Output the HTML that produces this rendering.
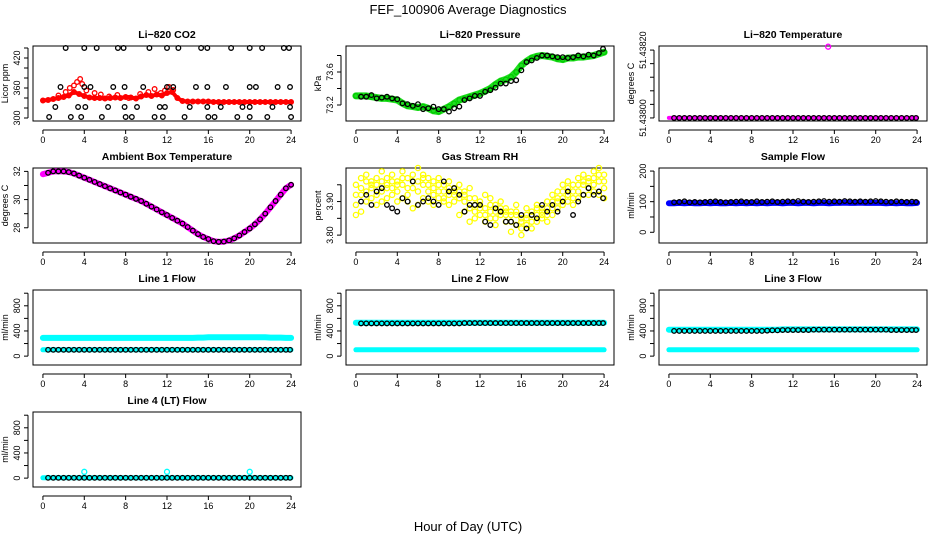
<!DOCTYPE html>
<html><head><meta charset="utf-8"><style>
body{margin:0;background:#fff;}
svg{display:block;font-family:"Liberation Sans",sans-serif;}
</style></head><body>
<svg id="chart" width="936" height="540" viewBox="0 0 936 540" xmlns="http://www.w3.org/2000/svg">
<rect width="936" height="540" fill="#fff"/>
<text x="468" y="14" font-size="13" text-anchor="middle">FEF_100906  Average Diagnostics</text>
<text x="468" y="531" font-size="13" text-anchor="middle">Hour of Day (UTC)</text>
</svg>
<script>
const halfHours = [0,0.5,1,1.5,2,2.5,3,3.5,4,4.5,5,5.5,6,6.5,7,7.5,8,8.5,9,9.5,10,10.5,11,11.5,12,12.5,13,13.5,14,14.5,15,15.5,16,16.5,17,17.5,18,18.5,19,19.5,20,20.5,21,21.5,22,22.5,23,23.5,24];
const blackHours = [0.5,1,1.5,2,2.5,3,3.5,4,4.5,5,5.5,6,6.5,7,7.5,8,8.5,9,9.5,10,10.5,11,11.5,12,12.5,13,13.5,14,14.5,15,15.5,16,16.5,17,17.5,18,18.5,19,19.5,20,20.5,21,21.5,22,22.5,23,23.5,23.9];
const xTicks = [0,4,8,12,16,20,24];

// CO2
const co2Red = [335,336,338,340,342,345,352,348,344,341,340,340,339,340,341,340,342,341,339,343,346,344,347,345,350,352,340,334,333,333,333,333,333,332,332,332,332,332,332,332,332,332,332,332,332,332,332,332,332];
const co2RedScatterHours = [1.5,2.2,2.6,3.0,3.3,3.6,3.8,4.2,5.0,5.6,6.4,7.2,8.3,9.4,10.2,10.8,11.4,11.8,12.2,12.6];
const co2RedScatterVals = [345,352,360,365,372,378,368,355,350,347,343,346,340,348,352,358,350,355,362,356];
const co2BlackHours = [2.2,4.0,5.2,7.25,7.8,10.3,12.0,13.1,15.3,15.9,18.2,20.0,21.2,23.3,23.8, 1.7,4.0,4.6,6.8,7.9,9.7,12.0,12.6,14.8,15.9,17.7,20.0,20.6,22.7,23.9, 1.2,3.4,4.1,6.3,7.9,9.1,11.3,11.8,14.2,15.9,17.2,19.3,20.0,22.2,23.9, 0.6,2.7,3.7,5.7,8.0,8.6,10.8,11.6,13.7,16.0,16.6,18.8,20.0,21.7,24.0];
const co2BlackVals = [440,440,440,440,440,440,440,440,440,440,440,440,440,440,440, 362,362,362,362,362,362,362,362,362,362,362,362,362,362,362, 322,322,322,322,322,322,322,322,322,322,322,322,322,322,322, 302,302,302,302,302,302,302,302,302,302,302,302,302,302,302];
// Pressure
const presGreen = [73.31,73.31,73.31,73.30,73.29,73.28,73.28,73.27,73.26,73.22,73.19,73.18,73.17,73.18,73.16,73.13,73.12,73.15,73.18,73.22,73.26,73.28,73.30,73.32,73.34,73.37,73.40,73.45,73.49,73.51,73.54,73.60,73.68,73.73,73.77,73.79,73.80,73.79,73.78,73.76,73.75,73.77,73.77,73.78,73.78,73.79,73.80,73.82,73.84];
const presBlack = [73.30,73.30,73.32,73.28,73.29,73.30,73.28,73.27,73.22,73.21,73.19,73.21,73.15,73.16,73.18,73.15,73.15,73.12,73.16,73.18,73.26,73.28,73.31,73.31,73.36,73.38,73.41,73.46,73.46,73.49,73.50,73.62,73.72,73.74,73.77,73.80,73.80,73.79,73.78,73.78,73.77,73.78,73.80,73.79,73.81,73.80,73.83,73.88];
// Li-820 temperature
const tempVals = [51.438,51.438,51.438,51.438,51.438,51.438,51.438,51.438,51.438,51.438,51.438,51.438,51.438,51.438,51.438,51.438,51.438,51.438,51.438,51.438,51.438,51.438,51.438,51.438,51.438,51.438,51.438,51.438,51.438,51.438,51.438,51.438,51.438,51.438,51.438,51.438,51.438,51.438,51.438,51.438,51.438,51.438,51.438,51.438,51.438,51.438,51.438,51.438,51.438];
const tempOutlierHour = [15.4];
const tempOutlierVal = [51.43821];
// Ambient
const ambVals = [31.8,31.9,32.0,32.0,32.0,31.95,31.85,31.7,31.55,31.4,31.25,31.1,30.95,30.8,30.65,30.5,30.35,30.2,30.05,29.9,29.7,29.5,29.3,29.1,28.9,28.7,28.5,28.3,28.05,27.8,27.55,27.35,27.2,27.05,27.0,27.02,27.1,27.25,27.45,27.7,27.95,28.25,28.6,29.0,29.45,29.9,30.35,30.8,31.05];
// RH
const rhA = [3.95,3.97,3.98,3.96,3.97,3.99,3.97,3.98,3.96,3.99,3.97,3.98,4.00,3.98,3.97,3.96,3.97,3.95,3.96,3.94,3.95,3.93,3.94,3.91,3.90,3.92,3.91,3.89,3.90,3.88,3.87,3.89,3.85,3.88,3.87,3.89,3.88,3.90,3.92,3.93,3.95,3.96,3.95,3.97,3.98,3.97,3.99,4.00,3.98];
const rhB = [3.89,3.92,3.93,3.94,3.92,3.93,3.95,3.94,3.93,3.95,3.92,3.94,3.93,3.95,3.93,3.92,3.93,3.91,3.92,3.93,3.91,3.90,3.88,3.87,3.88,3.86,3.87,3.85,3.88,3.86,3.84,3.86,3.82,3.85,3.84,3.86,3.87,3.86,3.88,3.90,3.91,3.92,3.91,3.93,3.95,3.94,3.95,3.96,3.94];
const rhC = [3.86,3.87,3.90,3.91,3.89,3.90,3.91,3.92,3.90,3.91,3.90,3.88,3.89,3.91,3.90,3.89,3.91,3.90,3.89,3.90,3.86,3.87,3.84,3.85,3.86,3.84,3.85,3.83,3.86,3.84,3.81,3.83,3.80,3.83,3.82,3.84,3.85,3.84,3.86,3.88,3.89,3.90,3.89,3.91,3.92,3.92,3.93,3.92,3.91];
const rhD = [3.92,3.94,3.96,3.95,3.95,3.96,3.94,3.96,3.95,3.97,3.94,3.96,3.96,3.97,3.95,3.94,3.95,3.93,3.94,3.92,3.93,3.92,3.91,3.89,3.89,3.88,3.89,3.87,3.87,3.87,3.86,3.87,3.84,3.86,3.86,3.88,3.86,3.88,3.90,3.91,3.93,3.94,3.93,3.95,3.96,3.96,3.97,3.98,3.96];
const rhBlack = [3.90,3.92,3.89,3.93,3.94,3.89,3.88,3.87,3.91,3.90,3.96,3.89,3.90,3.91,3.90,3.89,3.96,3.93,3.94,3.92,3.87,3.89,3.89,3.89,3.84,3.83,3.88,3.87,3.84,3.84,3.83,3.86,3.82,3.86,3.85,3.89,3.87,3.89,3.87,3.90,3.93,3.86,3.90,3.92,3.94,3.92,3.93,3.91];
// Sample flow
const sfBlue = [95,95,96,95,96,95,95,96,95,96,95,95,96,95,96,95,96,95,96,95,96,96,95,96,96,95,96,96,95,96,96,95,96,96,97,96,96,97,96,96,96,96,95,96,95,96,95,95,96];
const sfBlack = [98,99,101,98,99,98,99,100,101,99,98,99,100,101,99,99,101,99,100,101,99,100,101,100,102,100,99,100,101,102,100,101,100,102,101,100,101,100,101,102,101,100,99,101,100,99,100,99];
// Line flows
const l1Cyan = [290,290,290,290,290,290,290,290,290,290,290,290,290,290,290,290,290,290,290,290,290,290,290,290,290,290,290,290,290,290,295,295,300,300,300,300,300,300,300,300,300,300,300,300,295,295,295,290,290];
const l1Low = [100,100,100,100,100,100,100,100,100,100,100,100,100,100,100,100,100,100,100,100,100,100,100,100,100,100,100,100,100,100,100,100,100,100,100,100,100,100,100,100,100,100,100,100,100,100,100,100,100];
const l1Black = [100,100,100,100,100,100,100,100,100,100,100,100,100,100,100,100,100,100,100,100,100,100,100,100,100,100,100,100,100,100,100,100,100,100,100,100,100,100,100,100,100,100,100,100,100,100,100,100];
const l2Cyan = [530,530,530,530,530,530,530,530,530,530,530,530,530,530,530,530,530,530,530,530,530,530,530,530,530,530,530,530,530,530,530,530,530,530,530,530,530,530,530,530,530,530,530,530,530,530,530,530,530];
const l2Low = [100,100,100,100,100,100,100,100,100,100,100,100,100,100,100,100,100,100,100,100,100,100,100,100,100,100,100,100,100,100,100,100,100,100,100,100,100,100,100,100,100,100,100,100,100,100,100,100,100];
const l2Black = [520,520,520,520,520,520,520,520,520,520,520,520,520,520,520,520,520,520,520,520,525,525,525,525,525,525,525,525,525,525,525,525,525,525,525,525,525,525,525,525,525,525,525,525,525,525,525,525];
const l3Cyan = [420,420,420,420,420,420,420,420,420,420,420,420,420,420,420,420,420,420,420,420,420,420,425,425,425,425,425,425,425,425,425,425,425,425,425,425,425,425,425,425,425,425,425,425,425,425,425,425,425];
const l3Low = [100,100,100,100,100,100,100,100,100,100,100,100,100,100,100,100,100,100,100,100,100,100,100,100,100,100,100,100,100,100,100,100,100,100,100,100,100,100,100,100,100,100,100,100,100,100,100,100,100];
const l3Black = [400,400,400,400,400,400,400,400,400,400,400,400,400,400,400,400,400,400,405,410,410,415,415,415,415,415,415,420,420,420,420,420,420,420,420,420,420,420,420,420,420,420,415,415,415,415,415,415];
const l4Cyan = [5,5,5,5,5,5,5,5,5,5,5,5,5,5,5,5,5,5,5,5,5,5,5,5,5,5,5,5,5,5,5,5,5,5,5,5,5,5,5,5,5,5,5,5,5,5,5,5,5];
const l4Black = [5,5,5,5,5,5,5,5,5,5,5,5,5,5,5,5,5,5,5,5,5,5,5,5,5,5,5,5,5,5,5,5,5,5,5,5,5,5,5,5,5,5,5,5,5,5,5,5];
const l4OutHours = [4,12,20];
const l4OutVals = [100,100,100];

const NS = 'http://www.w3.org/2000/svg';
const svg = document.getElementById('chart');
function mk(tag, attrs, parent){ const e=document.createElementNS(NS,tag); for(const k in attrs) e.setAttribute(k,attrs[k]); (parent||svg).appendChild(e); return e; }

function panel(name, col, row, title, ylab, ydom, yticks, ylabels){
  const x0=33+col*313, x1=301+col*313, y0=46+row*122, y1=121+row*122;
  const g=mk('g',{});
  
  
  const sx=v=>x0+(v+0.96)/25.92*(x1-x0);
  const sy=v=>y1-(v-ydom[0])/(ydom[1]-ydom[0])*(y1-y0);
  const t=mk('text',{x:(x0+x1)/2,y:y0-8,'font-size':10.5,'font-weight':'bold','text-anchor':'middle'},g);
  t.textContent=title;
  
  
  const ax=mk('g',{stroke:'#000','stroke-width':1,fill:'none'},g);
  
  
  mk('line',{x1:sx(0),x2:sx(24),y1:y1+9,y2:y1+9},ax);
  xTicks.forEach(v=>{
    mk('line',{x1:sx(v),x2:sx(v),y1:y1+9,y2:y1+13},ax);
    const lt=mk('text',{x:sx(v),y:y1+22,'font-size':9,'text-anchor':'middle',fill:'#000',stroke:'none'},g);
    lt.textContent=v;
    
    
  });
  const ay=mk('g',{stroke:'#000','stroke-width':1,fill:'none'},g);
  
  
  mk('line',{x1:x0-5,x2:x0-5,y1:sy(yticks[0]),y2:sy(yticks[yticks.length-1])},ay);
  yticks.forEach(v=>{ mk('line',{x1:x0-9,x2:x0-5,y1:sy(v),y2:sy(v)},ay); });
  ylabels.forEach(v=>{
    const yy=sy(v), xx=x0-13;
    const lt=mk('text',{x:xx,y:yy,'font-size':9,'text-anchor':'middle',transform:`rotate(-90 ${xx} ${yy})`},g);
    lt.textContent=v;
    
    
  });
  const yl=mk('text',{x:x0-25,y:(y0+y1)/2,'font-size':9,'text-anchor':'middle',transform:`rotate(-90 ${x0-25} ${(y0+y1)/2})`},g);
  yl.textContent=ylab;
  
  
  const box=mk('rect',{x:x0,y:y0,width:x1-x0,height:y1-y0,fill:'none',stroke:'#000','stroke-width':1},g);
  
  
  const plot=mk('g',{},g);
  return {sx,sy,plot,name};
}
function band(p, xs, ys, color, w){
  const pts=xs.map((x,i)=>p.sx(x).toFixed(1)+','+p.sy(ys[i]).toFixed(1)).join(' ');
  const l=mk('polyline',{points:pts,fill:'none',stroke:color,'stroke-width':w,'stroke-linejoin':'round','stroke-linecap':'round'},p.plot);
  
  
}
function pts(p, xs, ys, color, r){
  const g=mk('g',{fill:'none',stroke:color,'stroke-width':1.3},p.plot);
  
  
  xs.forEach((x,i)=>{
    const c=mk('circle',{cx:p.sx(x),cy:p.sy(ys[i]),r:r||2.3},g);
    
    
  });
}

// CO2
let p=panel('co2',0,0,'Li\u2212820 CO2','Licor ppm',[294,444],[300,320,340,360,380,400,420,440],[300,360,420]);
band(p,halfHours,co2Red,'#ff0000',4);
pts(p,halfHours,co2Red,'#ff0000',2.3);
pts(p,co2RedScatterHours,co2RedScatterVals,'#ff0000',2.3);
pts(p,co2BlackHours,co2BlackVals,'#000');

p=panel('pressure',1,0,'Li\u2212820 Pressure','kPa',[73.006,73.915],[73.2,73.4,73.6,73.8],[73.2,73.6]);
band(p,halfHours,presGreen,'#22dd22',7);
pts(p,halfHours,presGreen,'#00cc00',2.3);
pts(p,blackHours,presBlack,'#000');

p=panel('li820-temperature',2,0,'Li\u2212820 Temperature','degrees C',[51.437991,51.438212],[51.438,51.43804,51.43808,51.43812,51.43816,51.4382],['51.43800','51.43820']);
band(p,halfHours,tempVals,'#ff00ff',4);
pts(p,blackHours,tempVals.slice(1),'#000');
pts(p,tempOutlierHour,tempOutlierVal,'#ff00ff',2.5);

p=panel('ambient-temperature',0,1,'Ambient Box Temperature','degrees C',[26.92,32.24],[28,29,30,31,32],[28,30,32]);
band(p,halfHours,ambVals,'#ff00ff',6);
pts(p,halfHours.slice(1),ambVals.slice(1),'#000');

p=panel('gas-stream-rh',1,1,'Gas Stream RH','percent',[3.7765,4.0],[3.80,3.85,3.90,3.95],['3.80','3.90']);
pts(p,halfHours,rhA,'#ffff00',2.6);
pts(p,halfHours,rhD,'#ffff00',2.6);
pts(p,halfHours,rhB,'#ffff00',2.6);
pts(p,halfHours,rhC,'#ffff00',2.6);
pts(p,blackHours,rhBlack,'#000');

p=panel('sample-flow',2,1,'Sample Flow','ml/min',[-35,210],[0,50,100,150,200],[0,100,200]);
band(p,halfHours,sfBlue,'#0000ff',6);
pts(p,blackHours,sfBlack,'#000');

const flowDom=[-141,1051], flowTicks=[0,200,400,600,800,1000], flowLabels=[0,400,800];
p=panel('line1-flow',0,2,'Line 1 Flow','ml/min',flowDom,flowTicks,flowLabels);
band(p,halfHours,l1Cyan,'#00ffff',6);
band(p,halfHours,l1Low,'#00ffff',5);
pts(p,blackHours,l1Black,'#000');

p=panel('line2-flow',1,2,'Line 2 Flow','ml/min',flowDom,flowTicks,flowLabels);
band(p,halfHours,l2Cyan,'#00ffff',6);
band(p,halfHours,l2Low,'#00ffff',5);
pts(p,blackHours,l2Black,'#000');

p=panel('line3-flow',2,2,'Line 3 Flow','ml/min',flowDom,flowTicks,flowLabels);
band(p,halfHours,l3Cyan,'#00ffff',6);
band(p,halfHours,l3Low,'#00ffff',5);
pts(p,blackHours,l3Black,'#000');

p=panel('line4-flow',0,3,'Line 4 (LT) Flow','ml/min',flowDom,flowTicks,flowLabels);
band(p,halfHours,l4Cyan,'#00ffff',5);
pts(p,blackHours,l4Black,'#000');
pts(p,l4OutHours,l4OutVals,'#00ffff',2.5);
</script>
</body></html>
